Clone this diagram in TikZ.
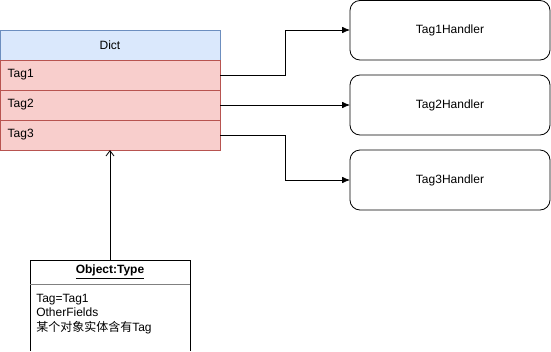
\documentclass[tikz,border=0pt]{standalone}
\usepackage{fontspec}
\setmainfont{Liberation Sans}
\newfontfamily\cjk{Noto Sans CJK SC}
\usetikzlibrary{arrows.meta}
\definecolor{hdrfill}{RGB}{218,232,252}
\definecolor{hdrline}{RGB}{108,142,191}
\definecolor{rowfill}{RGB}{248,206,204}
\definecolor{rowline}{RGB}{184,84,80}
\begin{document}
\begin{tikzpicture}[x=0.75pt,y=-0.75pt,
  font=\fontsize{9}{10.5}\selectfont,
  header/.style={draw=hdrline, fill=hdrfill, line width=0.6pt},
  row/.style={draw=rowline, fill=rowfill, line width=0.6pt},
  handler/.style={draw, rounded corners=7.5pt, line width=0.6pt},
  link/.style={-{Latex[length=6pt,width=5pt]}, line width=0.6pt},
  assoc/.style={-{Straight Barb[length=4pt,width=6pt]}, line width=0.6pt}]
\useasboundingbox (0,0) rectangle (551,351);
% dictionary table
\path[header] (0,30) rectangle (220,60);
\node (dict) at (110,45) {Dict};
\path[row] (0,60) rectangle (220,90);
\path[row] (0,90) rectangle (220,120);
\path[row] (0,120) rectangle (220,150);
\node[anchor=west] (t1) at (3,75) {Tag1};
\node[anchor=west] (t2) at (3,105) {Tag2};
\node[anchor=west] (t3) at (3,135) {Tag3};
\coordinate (t1e) at (220,75);
\coordinate (t2e) at (220,105);
\coordinate (t3e) at (220,135);
\coordinate (dictb) at (110,150);
% handlers
\draw[handler] (350,0.5) rectangle (550,60);
\node (h1) at (450,30) {Tag1Handler};
\draw[handler] (350,75) rectangle (550,135);
\node (h2) at (450,105) {Tag2Handler};
\draw[handler] (350,150) rectangle (550,210);
\node (h3) at (450,180) {Tag3Handler};
\coordinate (h1w) at (350,30);
\coordinate (h2w) at (350,105);
\coordinate (h3w) at (350,180);
% object instance
\draw[line width=0.6pt] (30,350.5) -- (30,260) -- (190,260) -- (190,350.5);
\draw[gray, line width=0.5pt] (30,284) -- (190,284);
\node (objt) at (110,272) {\bfseries\underline{Object:Type}};
\node[anchor=north west, align=left, inner sep=0pt, font=\fontsize{9}{10.8}\selectfont] (objb) at (36,294)
  {Tag=Tag1\\OtherFields\\{\cjk 某个对象实体含有}Tag};
\coordinate (objtop) at (110,260);
% connectors
\draw[link] (t1e) -- (285,75) |- (h1w);
\draw[link] (t2e) -- (h2w);
\draw[link] (t3e) -- (285,135) |- (h3w);
\draw[assoc] (objtop) -- (dictb);
\end{tikzpicture}
\end{document}
